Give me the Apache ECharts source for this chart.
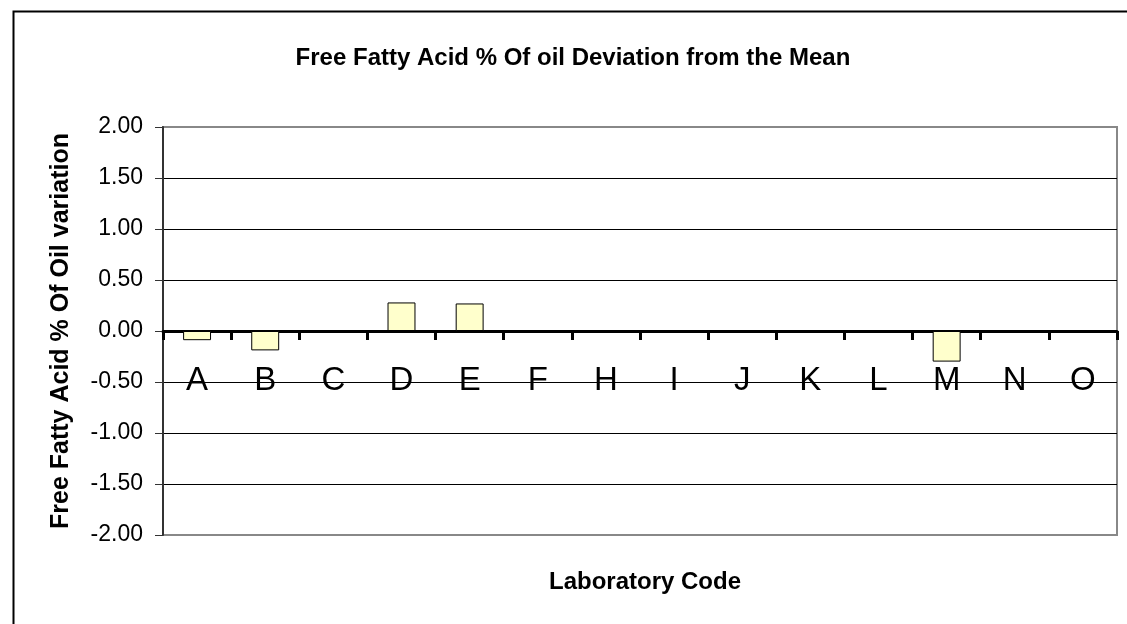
<!DOCTYPE html>
<html><head><meta charset="utf-8">
<script src="https://cdn.jsdelivr.net/npm/echarts@6/dist/echarts.min.js"></script>
<style>html,body{margin:0;padding:0;background:#fff}#c{width:1127px;height:624px}</style>
</head><body><div id="c"></div>
<script>
const categories = ['A','B','C','D','E','F','H','I','J','K','L','M','N','O'];
const deviation = [-0.09, -0.19, null, 0.28, 0.27, null, null, null, null, null, null, -0.30, null, null];
const yTicks = { min: -2, max: 2, interval: 0.5 };

const FONT = 'Liberation Sans, Arial, sans-serif';
const chart = echarts.init(document.getElementById('c'), null, {renderer: 'canvas'});
chart.setOption({
  animation: false,
  backgroundColor: '#fff',
  textStyle: { fontFamily: FONT },
  title: [
    { text: 'Free Fatty Acid % Of oil Deviation from the Mean', left: 568, top: 41, textAlign: 'center',
      textStyle: { fontSize: 24, fontWeight: 'bold', color: '#000', fontFamily: FONT } },
    { text: 'Laboratory Code', left: 640, top: 565, textAlign: 'center',
      textStyle: { fontSize: 24, fontWeight: 'bold', color: '#000', fontFamily: FONT } }
  ],
  graphic: [
    { type: 'rect', left: 11, top: 9, shape: { width: 1200, height: 700 }, style: { fill: 'none', stroke: '#000', lineWidth: 2 }, z: -1 }
  ],
  grid: { left: 163, right: 10, top: 127, bottom: 89, show: true, borderColor: '#888', borderWidth: 2, backgroundColor: '#fff' },
  xAxis: {
    type: 'category', data: categories,
    offset: -204,
    axisLine: { onZero: false, lineStyle: { color: '#000', width: 3 } },
    axisTick: { show: true, length: 9, lineStyle: { color: '#000', width: 3 } },
    axisLabel: { margin: 33, fontSize: 33, color: '#000', fontFamily: FONT },
    splitLine: { show: false }
  },
  yAxis: {
    type: 'value', min: yTicks.min, max: yTicks.max, interval: yTicks.interval,
    name: 'Free Fatty Acid % Of Oil variation', nameLocation: 'middle', nameGap: 89,
    nameTextStyle: { fontSize: 25, fontWeight: 'bold', color: '#000', fontFamily: FONT },
    axisLine: { show: true, lineStyle: { color: '#333', width: 2 } },
    axisTick: { show: true, length: 8, lineStyle: { color: '#333', width: 1 } },
    axisLabel: { formatter: v => v.toFixed(2), fontSize: 23, color: '#000', margin: 20, fontFamily: FONT },
    splitLine: { show: true, lineStyle: { color: ['#888','#000','#000','#000','#000','#000','#000','#000','#888'], width: 1 } }
  },
  series: [{
    type: 'bar', data: deviation, barWidth: '41%',
    itemStyle: { color: '#FFFFCC', borderColor: '#000', borderWidth: 1 }
  }]
});
</script></body></html>
